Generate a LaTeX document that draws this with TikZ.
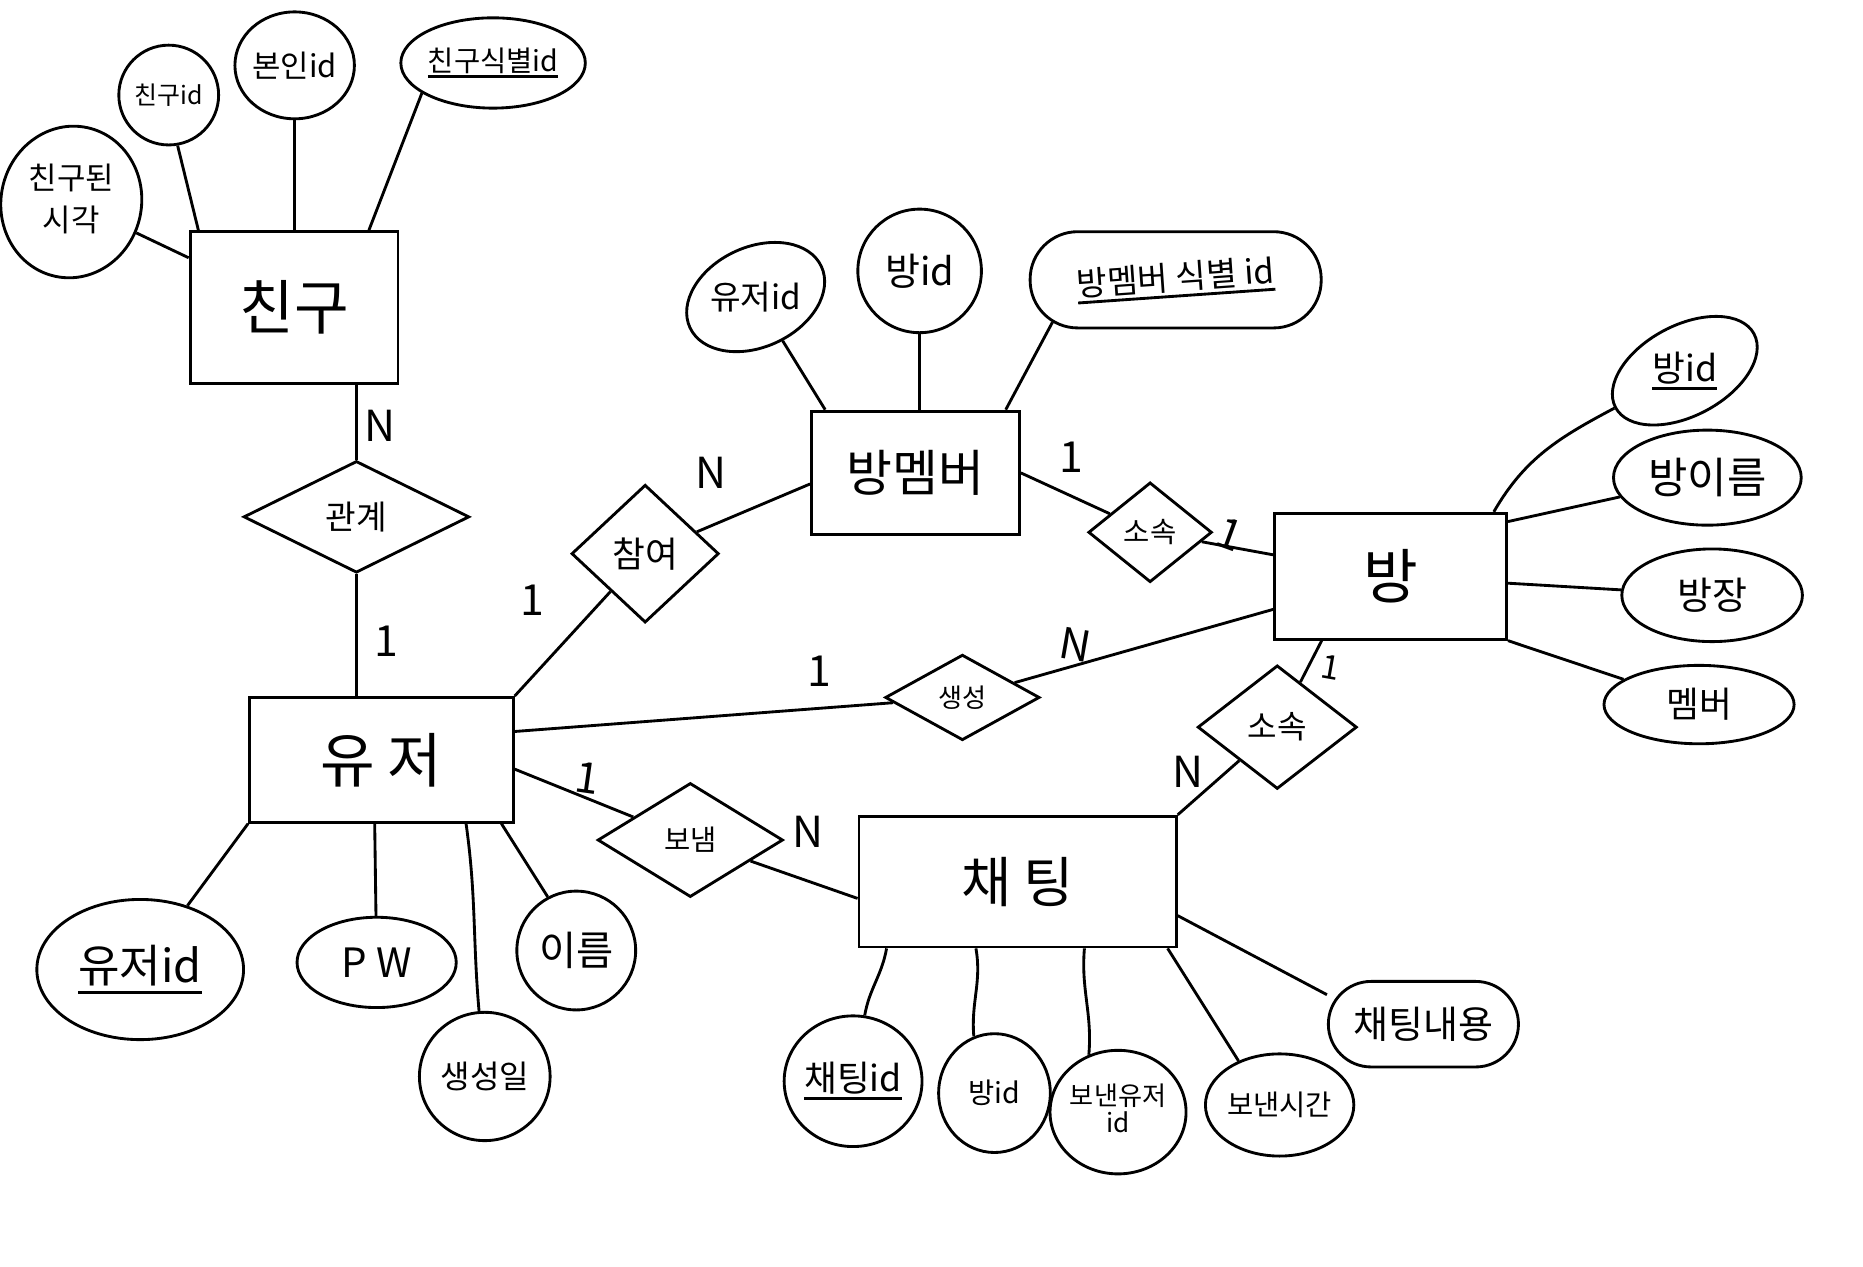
\documentclass[tikz,border=0pt]{standalone}
\usepackage{fontspec}
\setmainfont{Noto Sans CJK KR}
\usetikzlibrary{shapes.geometric}
\newcommand{\tsize}[1]{\fontsize{#1}{#1}\selectfont}
% underline for key attributes
\newcommand{\keyul}[1]{\setbox0=\hbox{#1}\leavevmode\rlap{\raisebox{-0.24em}{\rule{\wd0}{2.4pt}}}\box0}
\begin{document}
\begin{tikzpicture}[x=1pt,y=1pt,line width=2.4pt,
  sz/.style 2 args={minimum width=#1pt,minimum height=#2pt},
  entity/.style={draw,rectangle,inner sep=0pt,font=\tsize{50}},
  attr/.style={draw,ellipse,inner sep=0pt},
  pill/.style={draw,rectangle,rounded corners=36pt,inner sep=0pt},
  rel/.style={draw,diamond,inner sep=0pt},
  card/.style={inner sep=0pt,font=\tsize{36}}]
\fill[white] (0,0) rectangle (1568,-1066);
\useasboundingbox (0,0) rectangle (1568,-1066);

% entities
\node[entity,sz={175}{128}] (chingu) at (247.5,-259) {친구};
\node[entity,sz={222}{105}] (user) at (321,-639.5) {유 저};
\node[entity,sz={175}{104},font=\tsize{42}] (bangmember) at (770.5,-398) {방멤버};
\node[entity,sz={195}{106}] (bang) at (1170.5,-485) {방};
\node[entity,sz={267}{110},font=\tsize{46}] (chat) at (856.5,-742) {채 팅};

% relationships
\node[rel,sz={190}{94},font=\tsize{28}] (gwangye) at (300,-435) {관계};
\node[rel,sz={124}{116},font=\tsize{30}] (chamyeo) at (543,-466) {참여};
\node[rel,sz={104}{84},font=\tsize{24}] (sosok1) at (968,-448) {소속};
\node[rel,sz={130}{72},font=\tsize{22}] (saengseong) at (810,-587) {생성};
\node[rel,sz={134}{104},font=\tsize{27}] (sosok2) at (1075,-612) {소속};
\node[rel,sz={156}{96},font=\tsize{24}] (bonaem) at (581,-707) {보냄};

% attributes of 친구
\node[attr,sz={96}{128},rotate=-12] (sigak) at (60,-170)
  {\rotatebox{12}{\tsize{26}\begin{tabular}{@{}c@{}}친구된\\[6pt]시각\end{tabular}}};
\node[attr,sz={84}{84},font=\tsize{21}] (friendid) at (142,-80) {친구id};
\node[attr,sz={94}{90},font=\tsize{26}] (selfid) at (248,-55) {본인id};
\node[attr,sz={154}{76},font=\tsize{24}] (friendkey) at (415,-53) {\keyul{친구식별id}};

% attributes of 방멤버
\node[attr,sz={122}{84},rotate=25,font=\tsize{28}] (bm_userid) at (636,-250) {\rotatebox{-25}{유저id}};
\node[attr,sz={104}{104},font=\tsize{32}] (bm_bangid) at (774,-228) {방id};
\node[pill,sz={245}{81},rounded corners=40pt,font=\tsize{28}] (bm_key) at (989.5,-235.5)
  {\rotatebox{4}{\keyul{방멤버 식별 id}}};

% attributes of 방
\node[attr,sz={132}{72},rotate=28,font=\tsize{30}] (bang_id) at (1418,-312) {\rotatebox{-28}{\keyul{방id}}};
\node[attr,sz={158}{80},font=\tsize{36}] (bang_name) at (1437,-402) {방이름};
\node[attr,sz={152}{78},font=\tsize{32}] (bang_owner) at (1441,-501) {방장};
\node[attr,sz={160}{66},font=\tsize{30}] (bang_member) at (1430,-593) {멤버};

% attributes of 유저
\node[attr,sz={174}{118},font=\tsize{38}] (user_id) at (118,-816) {\keyul{유저id}};
\node[attr,sz={134}{76},font=\tsize{34}] (user_pw) at (317,-810) {P\hspace{0.25em}W};
\node[attr,sz={110}{108},font=\tsize{27}] (user_created) at (408,-906) {생성일};
\node[attr,sz={100}{100},font=\tsize{34}] (user_name) at (485,-800) {이름};

% attributes of 채팅
\node[attr,sz={116}{110},font=\tsize{30}] (chat_id) at (718,-910) {\keyul{채팅id}};
\node[attr,sz={94}{100},font=\tsize{24}] (chat_bangid) at (837,-920) {방id};
\node[attr,sz={104}{104},font=\tsize{22}] (chat_sender) at (941,-936)
  {\begin{tabular}{@{}c@{}}보낸유저\\[-2pt]id\end{tabular}};
\node[attr,sz={116}{86},font=\tsize{24}] (chat_time) at (1077,-930) {보낸시간};
\node[pill,sz={160}{72},font=\tsize{32}] (chat_content) at (1198,-862) {채팅내용};

% cardinalities
\node[card] (cN1) at (320,-358) {N};
\node[card] (c11) at (325,-540) {1};
\node[card] (c12) at (448,-505) {1};
\node[card] (cN2) at (598,-398) {N};
\node[card] (c13) at (902,-385) {1};
\node[card,rotate=-20] (c14) at (1035,-450) {1};
\node[card] (c15) at (690,-565) {1};
\node[card,rotate=-10] (cN3) at (905,-543) {N};
\node[card,font=\tsize{28},rotate=-10] (c16) at (1120,-562) {1};
\node[card] (cN4) at (1000,-650) {N};
\node[card,rotate=-8] (c17) at (494,-655) {1};
\node[card] (cN5) at (680,-700) {N};

% 친구
\draw (sigak) -- (chingu);
\draw (friendid.-80) -- (chingu.141);
\draw (selfid) -- (chingu.north -| selfid);
\draw (friendkey.203) -- (chingu.46);
\draw (chingu.south -| gwangye.north) -- (gwangye.north);
\draw (gwangye.south) -- (user.north -| gwangye.south);

% 유저 - 참여 - 방멤버
\draw (user.north east) -- (chamyeo);
\draw (chamyeo) -- (bangmember.186);
\draw (bm_userid) -- (bangmember.145);
\draw (bm_bangid) -- (bangmember.north -| bm_bangid);
\draw ([xshift=20pt,yshift=6pt]bm_key.south west) -- (bangmember.35);

% 방멤버 - 소속 - 방
\draw (bangmember.east) -- (sosok1);
\draw (sosok1) -- (bang);

% 방
\draw (bang.32) to[out=60,in=208] (bang_id.west);
\draw (bang.25) -- (bang_name);
\draw (bang) -- (bang_owner);
\draw (bang.south east) -- (bang_member);

% 유저 - 생성 - 방
\draw (user.12) -- (saengseong);
\draw (saengseong) -- (bang);

% 방 - 소속 - 채팅
\draw (bang.223) -- (sosok2);
\draw (sosok2) -- (chat.north east);

% 유저 - 보냄 - 채팅
\draw (user.-4) -- (bonaem);
\draw (bonaem) -- (chat.186);

% 채팅
\draw (chat.207) to[out=-100,in=80] (chat_id.80);
\draw (chat.238) to[out=-80,in=95] (chat_bangid.110);
\draw (chat.-45) to[out=-95,in=85] (chat_sender.117);
\draw (chat.-24) -- (chat_time.133);
\draw (chat.-12) -- (chat_content.163);

% 유저
\draw (user.south west) -- (user_id);
\draw (user.-96) -- (user_pw);
\draw (user.-37) to[out=-82,in=95] (user_created.95);
\draw (user.-28) -- (user_name.118);
\end{tikzpicture}
\end{document}
